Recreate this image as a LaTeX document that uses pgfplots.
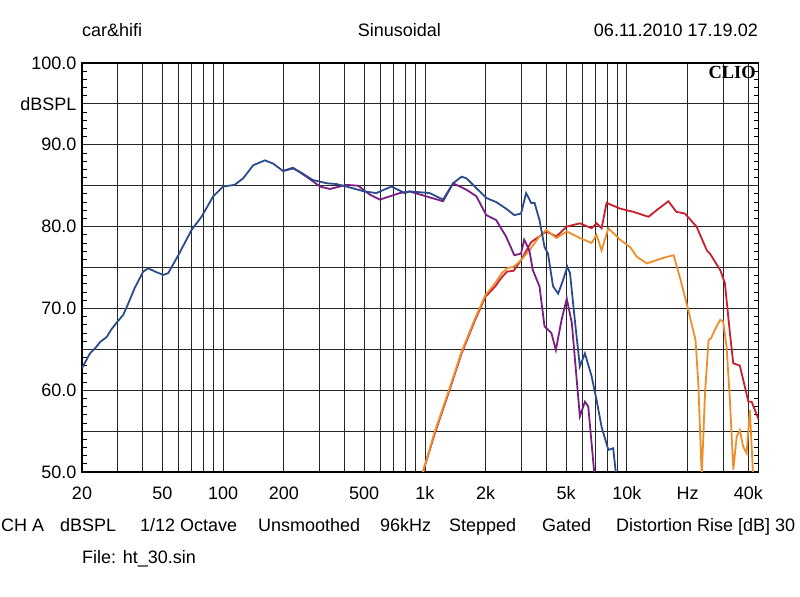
\documentclass[border=0pt]{standalone}
\usepackage{pgfplots}
\pgfplotsset{compat=1.18}
\usepackage{fontspec}
\setmainfont{Liberation Sans}
\newfontfamily\cliofont{Liberation Serif}
\definecolor{cblue}{HTML}{2B4C8C}
\definecolor{cpurple}{HTML}{7A1E86}
\definecolor{cred}{HTML}{C8202E}
\definecolor{corange}{HTML}{EE8E2A}
\newcommand{\tf}{\fontsize{18bp}{21bp}\selectfont}
\begin{document}
\begin{tikzpicture}
\useasboundingbox (0bp,0bp) rectangle (800bp,597bp);
\begin{axis}[
  at={(82bp,125bp)}, anchor=south west, scale only axis,
  width=676.7bp, height=409bp,
  xmode=log, xmin=20, xmax=45000, ymin=50, ymax=100,
  xtick={20,30,40,50,60,70,80,90,100,200,300,400,500,600,700,800,900,1000,2000,3000,4000,5000,6000,7000,8000,9000,10000,20000,30000,40000},
  xticklabels={20,,,50,,,,,100,200,,,500,,,,,1k,2k,,,5k,,,,,10k,Hz,,40k},
  ytick={50,55,...,100},
  yticklabels={50.0,,60.0,,70.0,,80.0,,90.0,dBSPL,100.0},
  minor ytick={51,52,53,54,56,57,58,59,61,62,63,64,66,67,68,69,71,72,73,74,76,77,78,79,81,82,83,84,86,87,88,89,91,92,93,94,96,97,98,99},
  grid=major,
  major grid style={black!85, line width=0.8bp},
  axis line style={black, line width=1.3bp},
  tick label style={font=\tf, inner sep=0pt},
  xticklabel style={anchor=base, yshift=-28bp},
  yticklabel style={anchor=east, xshift=-5.5bp},
  major tick length=0pt, minor tick length=5bp,
  tick align=inside, ytick pos=both, xtick pos=left,
  minor tick style={black, line width=0.8bp},
  clip=true,
]
\addplot[cred, line width=1.8bp] coordinates {
(950,49)(1118,54.7)(1306,59.6)(1518,64.5)(1773,68.6)(1990,71.4)(2230,72.7)(2400,73.8)(2550,74.5)(2750,74.6)(2992,75.9)(3358,78.1)(3990,79.4)(4480,78.8)(5040,80.0)(5852,80.4)(6692,79.8)(7080,80.4)(7500,79.8)(7940,82.9)(9260,82.2)(10790,81.8)(12800,81.2)(14040,82.0)(16060,83.1)(17600,81.8)(19380,81.6)(22150,80.0)(24900,77.1)(25800,76.7)(29000,74.7)(30600,73.1)(32400,67.0)(33660,63.3)(36300,63.0)(40000,58.6)(41500,58.6)(45000,56.4)
};
\addplot[corange, line width=1.8bp] coordinates {
(950,49)(1118,54.9)(1306,59.8)(1518,64.7)(1773,68.8)(1990,71.6)(2230,73.1)(2400,74.3)(2550,74.9)(2750,75.1)(2940,75.7)(3290,77.1)(3692,78.8)(3990,79.6)(4480,78.6)(5040,79.4)(5852,78.6)(6692,78.0)(7080,79.0)(7500,77.1)(8100,79.8)(9260,78.4)(10380,77.5)(11220,76.3)(12560,75.5)(14040,75.9)(15780,76.3)(17050,76.5)(18450,73.5)(19970,70.2)(21900,66.1)(22600,60.8)(23500,49.5)(24400,59.7)(25400,66.1)(26200,66.4)(27300,67.4)(29000,68.6)(30000,68.4)(31200,65.3)(32400,58.8)(33700,50.3)(35000,54.3)(36300,55.1)(37700,53.1)(39200,52.3)(40700,57.6)(42300,49)
};
\addplot[cpurple, line width=1.8bp] coordinates {
(198,86.8)(222,87.2)(259,86.1)(302,84.9)(338,84.6)(408,85.1)(466,85.0)(534,83.9)(598,83.3)(670,83.7)(750,84.1)(840,84.3)(1013,83.7)(1229,83.1)(1378,85.3)(1607,84.5)(1798,83.7)(2013,81.4)(2252,80.8)(2520,78.8)(2772,76.5)(2992,76.7)(3100,78.4)(3290,77.1)(3420,74.7)(3692,72.7)(3912,67.8)(4230,67.0)(4450,64.9)(4750,68.6)(5040,71.2)(5340,68.2)(5852,56.8)(6200,58.6)(6440,58.0)(6950,49)
};
\addplot[cblue, line width=1.8bp] coordinates {
(20,62.7)(21.9,64.5)(23.2,65.1)(24.6,65.9)(26.5,66.5)(27.9,67.4)(30,68.4)(32,69.2)(33.9,70.6)(36.5,72.5)(40.2,74.5)(42.6,74.9)(46,74.5)(50.5,74.1)(53.4,74.3)(60,76.5)(69.8,79.6)(78.2,81.2)(89.3,83.7)(100,84.9)(114,85.1)(125.7,85.9)(141,87.5)(161,88.1)(177,87.7)(198,86.8)(222,87.1)(240,86.7)(278,85.7)(326,85.3)(364,85.2)(408,84.9)(500,84.3)(574,84.1)(682,84.9)(750,84.4)(795,84.1)(840,84.3)(943,84.2)(1054,84.1)(1229,83.3)(1378,85.3)(1518,86.1)(1607,85.9)(1798,84.7)(2013,83.5)(2252,83.0)(2520,82.2)(2772,81.4)(2992,81.6)(3170,84.1)(3358,82.9)(3490,82.9)(3692,80.8)(3912,77.5)(4068,76.7)(4310,72.7)(4567,71.8)(4838,73.5)(5070,75.1)(5230,74.3)(5524,68.6)(5852,62.9)(6200,64.5)(6692,61.7)(7080,58.8)(7500,55.5)(8100,52.7)(8560,52.9)(8900,49)
};
\end{axis}
\node[anchor=east, font=\cliofont\bfseries\fontsize{18.5bp}{21bp}\selectfont, inner sep=0pt] at (756bp,525bp) {CLIO};
\node[anchor=base west, font=\tf, inner sep=0pt] at (82bp,560.5bp) {car\&hifi};
\node[anchor=base, font=\tf, inner sep=0pt] at (399.3bp,560.5bp) {Sinusoidal};
\node[anchor=base east, font=\tf, inner sep=0pt] at (758bp,560.5bp) {06.11.2010 17.19.02};
\node[anchor=base west, font=\tf, inner sep=0pt] at (1bp,65.5bp) {CH A};
\node[anchor=base west, font=\tf, inner sep=0pt] at (60bp,65.5bp) {dBSPL};
\node[anchor=base west, font=\tf, inner sep=0pt] at (140bp,65.5bp) {1/12 Octave};
\node[anchor=base west, font=\tf, inner sep=0pt] at (258bp,65.5bp) {Unsmoothed};
\node[anchor=base west, font=\tf, inner sep=0pt] at (380bp,65.5bp) {96kHz};
\node[anchor=base west, font=\tf, inner sep=0pt] at (449bp,65.5bp) {Stepped};
\node[anchor=base west, font=\tf, inner sep=0pt] at (542bp,65.5bp) {Gated};
\node[anchor=base west, font=\tf, inner sep=0pt] at (616bp,65.5bp) {Distortion Rise [dB] 30};
\node[anchor=base west, font=\tf, inner sep=0pt] at (82bp,33.5bp) {File: ht\_30.sin};
\end{tikzpicture}
\end{document}
